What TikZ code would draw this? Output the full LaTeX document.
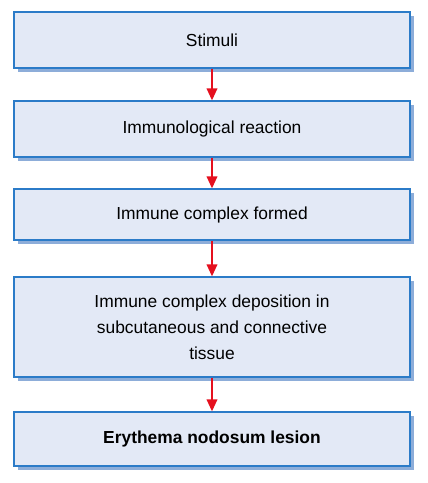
\documentclass[tikz,border=0pt]{standalone}
\usepackage{fontspec}
\setmainfont{Liberation Sans}
\usetikzlibrary{arrows.meta,shadows}
\definecolor{boxfill}{HTML}{E3E9F6}
\definecolor{boxline}{HTML}{2B7BC8}
\definecolor{boxshadow}{HTML}{8DADD9}
\definecolor{arrowred}{HTML}{E5101E}
\tikzset{
  flowbox/.style={draw=boxline, line width=1.2pt, fill=boxfill,
    minimum width=396pt, inner sep=0pt, align=center,
    font=\fontsize{17.4}{26}\selectfont,
    drop shadow={shadow xshift=4pt, shadow yshift=-4pt, fill=boxshadow, opacity=1}},
  flowarrow/.style={draw=arrowred, line width=2pt,
    -{Triangle[length=12pt,width=10.5pt]}, shorten >=0pt}
}
\begin{document}
\begin{tikzpicture}[x=1pt,y=-1pt]
\useasboundingbox (0,0) rectangle (428,483);
\node[flowbox, minimum height=56pt] (s1) at (212,40) {Stimuli};
\node[flowbox, minimum height=56pt] (s2) at (212,129) {Immunological reaction};
\node[flowbox, minimum height=51pt] (s3) at (212,214.5) {Immune complex formed};
\node[flowbox, minimum height=100pt] (s4) at (212,327) {Immune complex deposition in\\subcutaneous and connective\\tissue};
\node[flowbox, minimum height=54pt, font=\fontsize{17.4}{26}\selectfont\bfseries] (s5) at (212,439) {Erythema nodosum lesion};
\draw[flowarrow] (s1.south) -- (s2.north);
\draw[flowarrow] (s2.south) -- (s3.north);
\draw[flowarrow] (s3.south) -- (s4.north);
\draw[flowarrow] (s4.south) -- (s5.north);
\end{tikzpicture}
\end{document}
